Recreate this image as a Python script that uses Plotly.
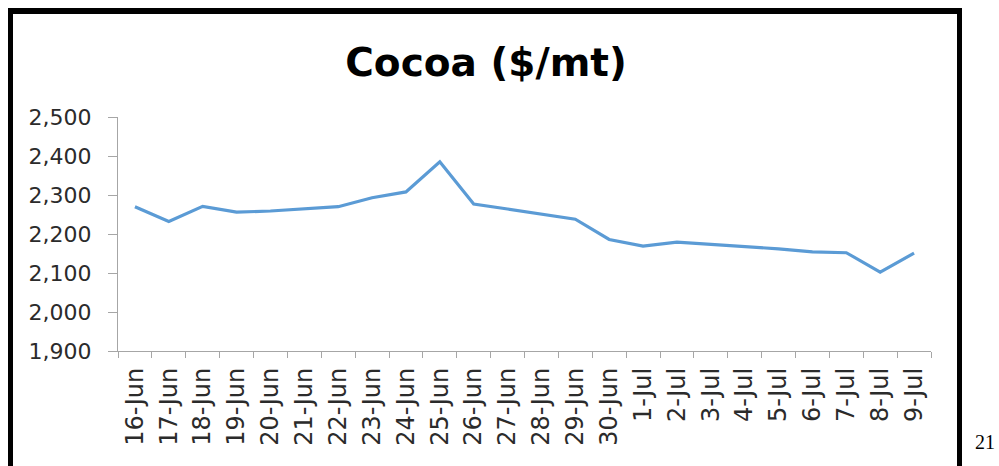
import plotly.graph_objects as go

# Daily cocoa prices, $/mt
dates = ["16-Jun", "17-Jun", "18-Jun", "19-Jun", "20-Jun", "21-Jun", "22-Jun",
         "23-Jun", "24-Jun", "25-Jun", "26-Jun", "27-Jun", "28-Jun", "29-Jun",
         "30-Jun", "1-Jul", "2-Jul", "3-Jul", "4-Jul", "5-Jul", "6-Jul",
         "7-Jul", "8-Jul", "9-Jul"]
prices = [2270, 2232, 2271, 2256, 2259, 2264, 2270, 2293, 2308, 2385,
          2277, 2264, 2251, 2238, 2186, 2169, 2179, 2174, 2168, 2162,
          2154, 2152, 2102, 2151]

y_ticks = [1900, 2000, 2100, 2200, 2300, 2400, 2500]

W, H = 999, 466
L, R, T, B = 118, 931, 117, 351   # plot area in pixels


def px(x):
    return (x - L) / (R - L)


def py(y):
    return (B - y) / (B - T)


fig = go.Figure()
fig.add_trace(go.Scatter(
    x=dates, y=prices, mode="lines",
    line=dict(color="#5B9BD5", width=3.2),
    hoverinfo="x+y",
))

y_font = dict(family="'DejaVu Sans', sans-serif", size=22, color="#2b2b2b")
x_font = dict(family="'DejaVu Sans', sans-serif", size=24, color="#2b2b2b")

fig.update_layout(
    width=W, height=H,
    margin=dict(l=L, r=W - R, t=T, b=H - B, pad=0),
    paper_bgcolor="white", plot_bgcolor="white",
    showlegend=False,
    title=dict(
        text="<b>Cocoa ($/mt)</b>",
        x=486 / W, xref="container", xanchor="center",
        y=1 - 62 / H, yref="container", yanchor="middle",
        font=dict(family="'DejaVu Sans', sans-serif", size=39, color="black"),
    ),
    xaxis=dict(
        type="category", categoryorder="array", categoryarray=dates,
        tickangle=-90, tickfont=x_font,
        showline=True, linecolor="#A6A6A6", linewidth=1.3,
        ticks="outside", ticklen=6, tickcolor="#A6A6A6", tickwidth=1.3,
        ticklabelstandoff=6,
        tickson="boundaries", showgrid=False, zeroline=False,
        range=[-0.5, len(dates) - 0.5], fixedrange=True,
    ),
    yaxis=dict(
        range=[1900, 2500], tickvals=y_ticks, tickformat=",d",
        tickfont=y_font,
        showline=True, linecolor="#A6A6A6", linewidth=1.3,
        ticks="outside", ticklen=9, tickcolor="#A6A6A6", tickwidth=1.3,
        ticklabelstandoff=12,
        showgrid=False, zeroline=False, fixedrange=True,
    ),
)

# Black frame around the chart (top, left and right edges)
frame = [
    (8, 8, 962, 14),
    (8, 8, 13, H + 5),
    (957, 8, 962, H + 5),
]
for x0, y0, x1, y1 in frame:
    fig.add_shape(type="rect", xref="paper", yref="paper",
                  x0=px(x0), x1=px(x1), y0=py(y1), y1=py(y0),
                  fillcolor="black", line=dict(width=0), layer="above")

# Page number beside the frame
fig.add_annotation(text="21", xref="paper", yref="paper",
                   x=px(985), y=py(442), xanchor="center", yanchor="middle",
                   showarrow=False,
                   font=dict(family="'Liberation Serif', 'Times New Roman', serif",
                             size=20, color="black"))

fig.write_html("out.html")
